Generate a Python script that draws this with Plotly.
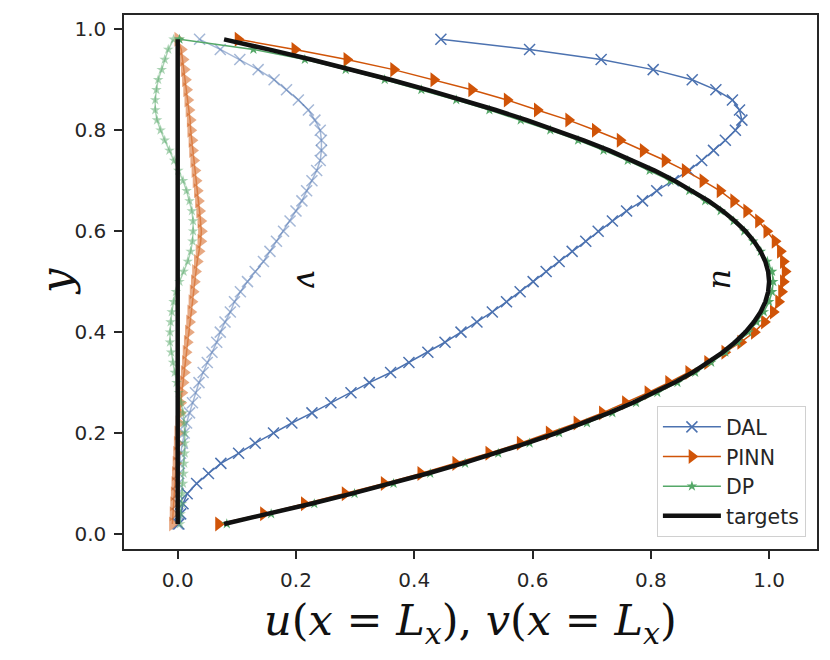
import plotly.graph_objects as go

# ---- data ----
y_pts = [0.02, 0.04, 0.06, 0.08, 0.10, 0.12, 0.14, 0.16, 0.18, 0.20,
         0.22, 0.24, 0.26, 0.28, 0.30, 0.32, 0.34, 0.36, 0.38, 0.40,
         0.42, 0.44, 0.46, 0.48, 0.50, 0.52, 0.54, 0.56, 0.58, 0.60,
         0.62, 0.64, 0.66, 0.68, 0.70, 0.72, 0.74, 0.76, 0.78, 0.80,
         0.82, 0.84, 0.86, 0.88, 0.90, 0.92, 0.94, 0.96, 0.98]

dal_u = [0.002, 0.005, 0.009, 0.016, 0.032, 0.052, 0.073, 0.103, 0.131, 0.162,
         0.193, 0.227, 0.259, 0.293, 0.324, 0.360, 0.391, 0.423, 0.452, 0.479,
         0.506, 0.532, 0.556, 0.579, 0.601, 0.623, 0.645, 0.667, 0.690, 0.711,
         0.735, 0.759, 0.786, 0.810, 0.838, 0.864, 0.886, 0.906, 0.926, 0.943,
         0.954, 0.950, 0.938, 0.910, 0.870, 0.804, 0.716, 0.595, 0.445]
dal_v = [0.000, 0.000, 0.000, 0.000, 0.001, 0.002, 0.003, 0.005, 0.008, 0.011,
         0.015, 0.020, 0.025, 0.030, 0.036, 0.043, 0.050, 0.058, 0.066, 0.072,
         0.080, 0.089, 0.096, 0.106, 0.118, 0.131, 0.145, 0.156, 0.167, 0.179,
         0.190, 0.200, 0.210, 0.218, 0.227, 0.235, 0.241, 0.243, 0.243, 0.241,
         0.232, 0.221, 0.204, 0.184, 0.163, 0.136, 0.105, 0.072, 0.037]

pinn_u = [0.069, 0.145, 0.214, 0.283, 0.349, 0.411, 0.470, 0.526, 0.579, 0.628,
          0.675, 0.718, 0.757, 0.795, 0.830, 0.864, 0.896, 0.925, 0.952, 0.975,
          0.992, 1.007, 1.016, 1.021, 1.024, 1.027, 1.024, 1.019, 1.010, 0.996,
          0.982, 0.962, 0.940, 0.917, 0.888, 0.858, 0.824, 0.787, 0.748, 0.706,
          0.661, 0.608, 0.557, 0.497, 0.433, 0.365, 0.286, 0.198, 0.102]
pinn_v = [-0.009, -0.008, -0.007, -0.006, -0.005, -0.004, -0.003, -0.002, -0.001, 0.000,
          0.002, 0.004, 0.005, 0.007, 0.009, 0.011, 0.013, 0.014, 0.016, 0.018,
          0.020, 0.022, 0.024, 0.026, 0.028, 0.030, 0.033, 0.036, 0.039, 0.040,
          0.039, 0.037, 0.035, 0.033, 0.031, 0.029, 0.027, 0.025, 0.024, 0.022,
          0.021, 0.019, 0.017, 0.015, 0.013, 0.011, 0.009, 0.006, 0.000]

dp_u = [0.083, 0.158, 0.231, 0.299, 0.365, 0.427, 0.486, 0.542, 0.595, 0.645,
        0.692, 0.735, 0.775, 0.811, 0.845, 0.875, 0.902, 0.926, 0.947, 0.965,
        0.979, 0.991, 1.000, 1.005, 1.007, 1.005, 0.997, 0.986, 0.973, 0.958,
        0.940, 0.918, 0.892, 0.865, 0.833, 0.798, 0.761, 0.720, 0.677, 0.630,
        0.580, 0.527, 0.471, 0.412, 0.350, 0.284, 0.215, 0.128, 0.003]
dp_v = [0.004, 0.005, 0.007, 0.008, 0.009, 0.010, 0.011, 0.012, 0.012, 0.012,
        0.011, 0.009, 0.006, 0.002, -0.002, -0.005, -0.008, -0.011, -0.013, -0.013,
        -0.012, -0.010, -0.007, -0.003, 0.003, 0.010, 0.017, 0.022, 0.025, 0.026,
        0.026, 0.024, 0.020, 0.015, 0.009, 0.001, -0.006, -0.014, -0.022, -0.029,
        -0.035, -0.038, -0.038, -0.036, -0.033, -0.027, -0.022, -0.016, -0.007]

target_u = [0.0784, 0.1536, 0.2256, 0.2944, 0.3600, 0.4224, 0.4816, 0.5376, 0.5904, 0.6400,
            0.6864, 0.7296, 0.7696, 0.8064, 0.8400, 0.8704, 0.8976, 0.9216, 0.9424, 0.9600,
            0.9744, 0.9856, 0.9936, 0.9984, 1.0000, 0.9984, 0.9936, 0.9856, 0.9744, 0.9600,
            0.9424, 0.9216, 0.8976, 0.8704, 0.8400, 0.8064, 0.7696, 0.7296, 0.6864, 0.6400,
            0.5904, 0.5376, 0.4816, 0.4224, 0.3600, 0.2944, 0.2256, 0.1536, 0.0784]
target_v = [0.0] * len(y_pts)

tick_vals = [0.0, 0.2, 0.4, 0.6, 0.8, 1.0]
tick_text = ["0.0", "0.2", "0.4", "0.6", "0.8", "1.0"]

BLUE = (76, 114, 176)
ORANGE = (208, 84, 8)
GREEN = (85, 168, 104)
BLACK = "#111111"
AXC = "#262626"


def rgba(c, a):
    return "rgba(%d,%d,%d,%.2f)" % (c[0], c[1], c[2], a)


fig = go.Figure()


def add_method(u, v, name, color, symbol, msize, filled):
    for vals, alpha, show in ((u, 1.0, True), (v, 0.5, False)):
        col = rgba(color, alpha)
        if filled:
            marker = dict(symbol=symbol, size=msize, color=col, line=dict(width=0))
        else:
            marker = dict(symbol=symbol, size=msize, color=col,
                          line=dict(color=col, width=1.5))
        fig.add_trace(go.Scatter(
            x=vals, y=y_pts, mode="lines+markers", name=name,
            legendgroup=name, showlegend=show,
            line=dict(color=col, width=1.5), marker=marker))


add_method(dal_u, dal_v, "DAL", BLUE, "x-thin", 11, False)
add_method(pinn_u, pinn_v, "PINN", ORANGE, "triangle-right", 13, True)
add_method(dp_u, dp_v, "DP", GREEN, "star", 8, True)

fig.add_trace(go.Scatter(x=target_u, y=y_pts, mode="lines", name="targets",
                         legendgroup="targets", line=dict(color=BLACK, width=4.5)))
fig.add_trace(go.Scatter(x=target_v, y=y_pts, mode="lines", name="targets",
                         legendgroup="targets", showlegend=False,
                         line=dict(color=BLACK, width=4.5)))

axis_common = dict(
    showline=True, mirror=True, linecolor=AXC, linewidth=1.5,
    ticks="outside", ticklen=8, tickwidth=1.5, tickcolor=AXC,
    showgrid=False, zeroline=False,
    tickvals=tick_vals, ticktext=tick_text,
    tickfont=dict(family="DejaVu Sans", size=20, color=AXC),
    ticklabelstandoff=4,
)

# the page body adds an 8px offset, so margins are shifted to compensate
fig.update_layout(
    width=830, height=660,
    margin=dict(l=116, r=21, t=5, b=119),
    paper_bgcolor="white", plot_bgcolor="white",
    xaxis=dict(range=[-0.0908, 1.081], **axis_common),
    yaxis=dict(range=[-0.0296, 1.0282], **axis_common),
    legend=dict(x=0.984, y=0.0224, xanchor="right", yanchor="bottom",
                bgcolor="rgba(255,255,255,0.8)", bordercolor="#d0d0d0", borderwidth=1,
                font=dict(family="DejaVu Sans", size=20.5, color=AXC),
                tracegroupgap=0, itemwidth=58),
    showlegend=True,
)

serif = "DejaVu Serif"
fig.add_annotation(
    text="<i>u</i>(<i>x</i> = <i>L</i><sub><i>x</i></sub>), <i>v</i>(<i>x</i> = <i>L</i><sub><i>x</i></sub>)",
    xref="paper", yref="paper", x=0.5, y=-0.138, xanchor="center", yanchor="middle",
    showarrow=False, font=dict(family=serif, size=43, color="#111111"))
fig.add_annotation(
    text="<i>y</i>", xref="paper", yref="paper", x=(56 - 124) / 693, y=0.5,
    xanchor="center", yanchor="middle", textangle=-90, showarrow=False,
    font=dict(family=serif, size=43, color="#111111"))
fig.add_annotation(text="<i>u</i>", x=0.924, y=0.505, xref="x", yref="y",
                   showarrow=False, textangle=90,
                   font=dict(family=serif, size=32, color="#111111"))
fig.add_annotation(text="<i>v</i>", x=0.22, y=0.505, xref="x", yref="y",
                   showarrow=False, textangle=90,
                   font=dict(family=serif, size=32, color="#111111"))

fig.write_html("out.html")
